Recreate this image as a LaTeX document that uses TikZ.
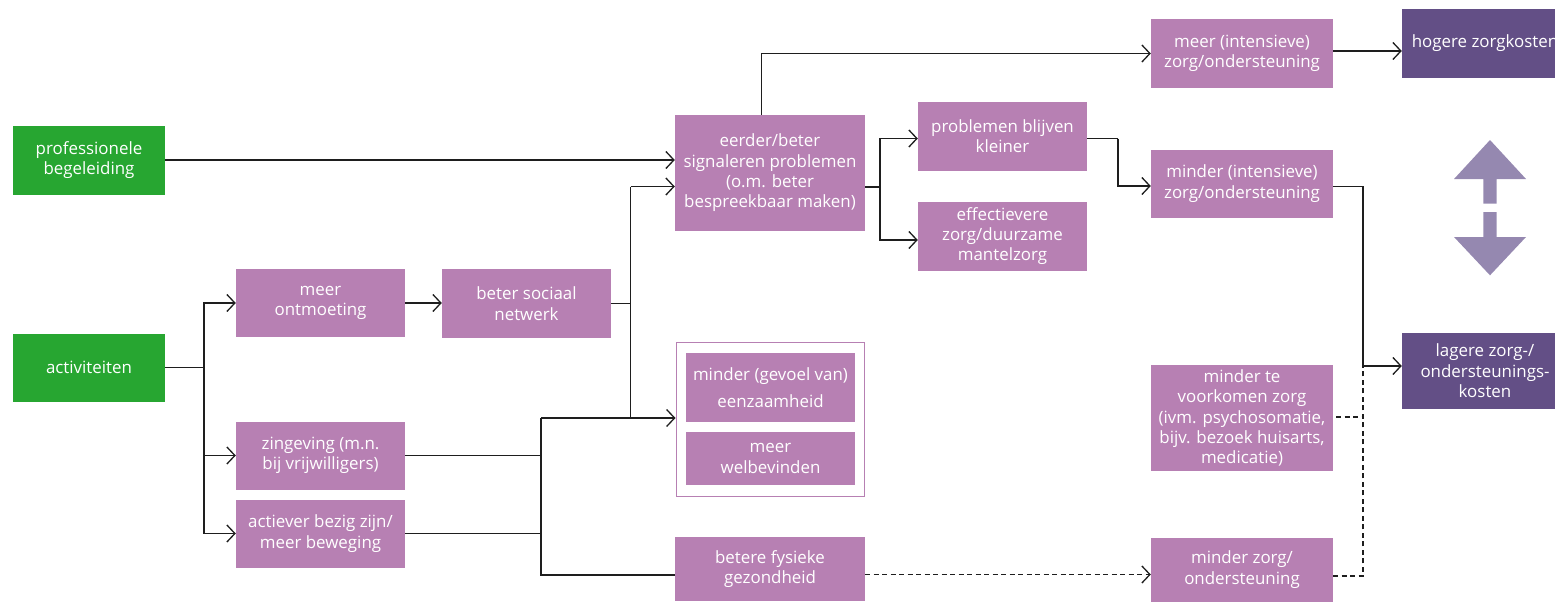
\documentclass[tikz,border=0pt]{standalone}
\usepackage{fontspec}
\setmainfont{Open Sans}
\usetikzlibrary{arrows.meta,calc}
\definecolor{boxp}{RGB}{183,128,179}
\definecolor{grn}{RGB}{39,166,49}
\definecolor{dkp}{RGB}{99,79,134}
\definecolor{arp}{RGB}{149,136,176}
\definecolor{ln}{RGB}{30,30,30}
\begin{document}
\begin{tikzpicture}[x=1pt,y=-1pt,
  base/.style={text=white, align=center, inner sep=0pt, font=\fontsize{16.9}{20.4}\selectfont},
  pbox/.style={base, fill=boxp},
  gbox/.style={base, fill=grn},
  dbox/.style={base, fill=dkp},
  wh/.style 2 args={minimum width=#1pt, minimum height=#2pt},
  conn/.style={draw=ln, line width=1.3pt},
  arr/.style={conn, -{Straight Barb[length=8pt,width=17pt]}},
  dsh/.style={conn, dash pattern=on 5pt off 3.5pt},
]
\useasboundingbox (0,0) rectangle (1555,602);
\clip (0,0) rectangle (1555,602);

% left column
\node[gbox, wh={152}{69}] (prof) at (89,160) {professionele\\begeleiding};
\node[gbox, wh={152}{68}] (act) at (89,367.5) {activiteiten};

\node[pbox, wh={169}{68}] (ontm) at (320.5,303) {meer\\ontmoeting};
\node[pbox, wh={169}{68}] (zing) at (320.5,455.5) {zingeving (m.n.\\bij vrijwilligers)};
\node[pbox, wh={169}{68}] (actv) at (320.5,533.5) {actiever bezig zijn/\\meer beweging};
\node[pbox, wh={169}{69}] (soc) at (526.5,303.5) {beter sociaal\\netwerk};

% middle column
\node[pbox, wh={190}{116}] (eerder) at (770,173) {eerder/beter\\signaleren problemen\\(o.m. beter\\bespreekbaar maken)};
\node[draw=boxp, line width=1pt, inner sep=0pt, wh={188}{154}] (group) at (770,419) {};
\node[pbox, wh={169}{69}, font=\fontsize{16.9}{26.7}\selectfont] (eenz) at (770.5,387.5) {minder (gevoel van)\\eenzaamheid};
\node[pbox, wh={169}{53}] (welb) at (770.5,458.5) {meer\\welbevinden};
\node[pbox, wh={190}{64}] (fys) at (770,569) {betere fysieke\\gezondheid};

\node[pbox, wh={169}{69}] (probl) at (1002.5,136) {problemen blijven\\kleiner};
\node[pbox, wh={169}{69}] (eff) at (1002.5,236) {effectievere\\zorg/duurzame\\mantelzorg};

% right column
\node[pbox, wh={182}{68}] (meerint) at (1242,53.5) {meer (intensieve)\\zorg/ondersteuning};
\node[pbox, wh={182}{68}] (minint) at (1242,183.5) {minder (intensieve)\\zorg/ondersteuning};
\node[pbox, wh={182}{106}] (voork) at (1242,418) {minder te\\voorkomen zorg\\(ivm. psychosomatie,\\bijv. bezoek huisarts,\\medicatie)};
\node[pbox, wh={182}{64}] (minzorg) at (1242,569.5) {minder zorg/\\ondersteuning};

\node[dbox, wh={166}{69}] (hoger) at (1485,43.5) {hogere zorgkosten};
\node[dbox, wh={166}{76}] (lager) at (1485,371) {lagere zorg-/\\ondersteunings-\\kosten};

% double arrow icon
\fill[arp] (1490,140) -- (1526,179) -- (1496.7,179) -- (1496.7,203.7) -- (1483.3,203.7) -- (1483.3,179) -- (1454,179) -- cycle;
\fill[arp] (1483.3,212) -- (1496.7,212) -- (1496.7,237) -- (1526,237) -- (1490,275.3) -- (1454,237) -- (1483.3,237) -- cycle;

% junction coordinates
\coordinate (ja) at (204,367.5);
\coordinate (jb) at (630.5,186.5);
\coordinate (jc) at (630.5,418);
\coordinate (jd) at (541,418);
\coordinate (je) at (541,575);
\coordinate (jf) at (880,187);
\coordinate (jg) at (1118,138.5);
\coordinate (jh) at (1363,186.5);
\coordinate (ji) at (1363,366);
\coordinate (jj) at (1363,417);
\coordinate (jk) at (1363,576);
\coordinate (jl) at (761.7,53.5);

% connectors
\draw[arr] (prof.east) -- (prof.east -| eerder.west);
\draw[conn] (act.east) -- (ja);
\draw[arr] (ja) |- (ontm.west);
\draw[arr] (ja) |- (zing.west);
\draw[arr] (ja) |- (actv.west);
\draw[arr] (ontm.east) -- (ontm.east -| soc.west);
\draw[conn] (soc.east) -- (soc.east -| jb);
\draw[conn] (jc) -- (jb);
\draw[arr] (jb) -- (jb -| eerder.west);
\draw[arr] (jd) -- (jd -| group.west);
\draw[conn] (zing.east) -- (zing.east -| jd);
\draw[conn] (actv.east) -- (actv.east -| jd);
\draw[conn] (jd) -- (je) -- (je -| fys.west);

\draw[arr] (eerder.north -| jl) -- (jl) -- (meerint.west);
\draw[conn] (eerder.east |- jf) -- (jf);
\draw[arr] (jf) |- ([yshift=-2.5pt]probl.west);
\draw[arr] (jf) |- ([yshift=-4pt]eff.west);
\draw[conn] (probl.east |- jg) -- (jg);
\draw[arr] (jg) |- ([yshift=-2.5pt]minint.west);
\draw[arr] ([yshift=2.5pt]meerint.east) -- ([yshift=2.5pt]meerint.east -| hoger.west);
\draw[conn] (minint.east |- jh) -- (jh) -- (ji);
\draw[arr] (ji) -- (ji -| lager.west);
\draw[dsh] ([xshift=3pt]voork.east |- jj) -- (jj);
\draw[dsh] (minzorg.east |- jk) -- (jk) -- (ji);
\draw[dsh, -{Straight Barb[length=8pt,width=17pt]}] (fys.east |- 0,574.5) -- (minzorg.west |- 0,574.5);
\end{tikzpicture}
\end{document}
